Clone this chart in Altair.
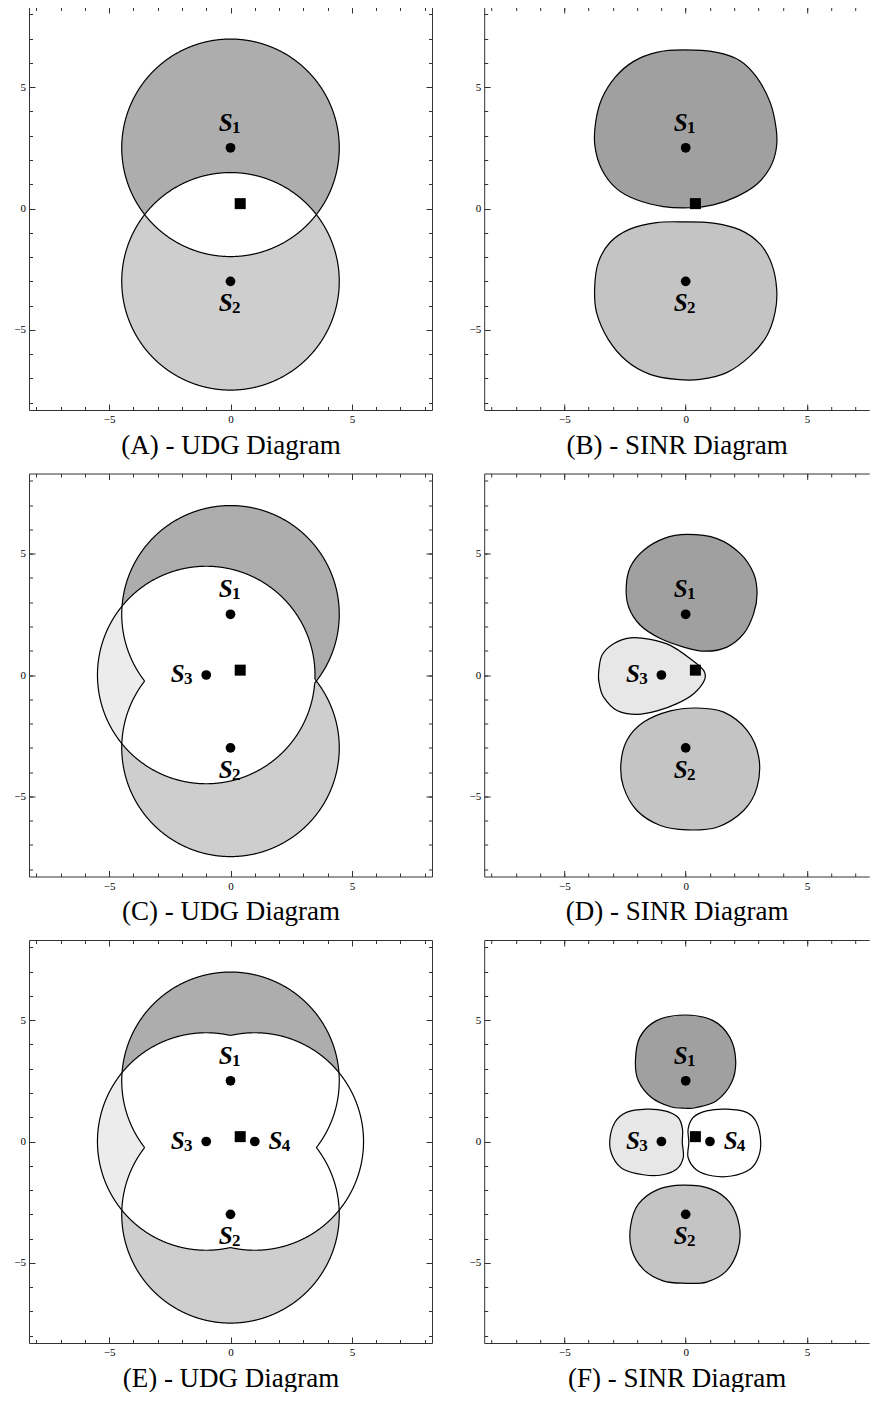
import altair as alt
import numpy as np
import pandas as pd

# ---------------- data ----------------
PX_PER_UNIT = 403 / 16.6
DOMAIN_L = [-8.3, 8.3]
DOMAIN_R = [-8.3, 7.56]
DOMAIN_Y = [-8.3, 8.3]

st_names = ["S1", "S2", "S3", "S4"]
st_sub = ["1", "2", "3", "4"]
st_x = [0.0, 0.0, -1.0, 1.0]
st_y = [2.5, -3.0, 0.0, 0.0]
label_x = [-0.2, -0.2, -2.17, 1.85]
label_y = [3.53, -3.9, 0.04, 0.04]
recv_x = [0.4]
recv_y = [0.2]

udg_radius = 4.48
udg_colors = ["#adadad", "#cecece", "#ececec", "#ffffff"]
sinr_colors = ["#a0a0a0", "#c4c4c4", "#e7e7e7", "#ffffff"]

B_S1_x = [-0.10, 1.28, 2.24, 2.93, 3.48, 3.73, 3.73, 3.48, 2.93, 2.10, 1.14, 0.18, -0.92, -2.02, -2.85, -3.46, -3.74, -3.71, -3.46, -2.91, -2.16, -1.20]
B_S1_y = [6.53, 6.43, 6.09, 5.40, 4.37, 3.27, 2.45, 1.69, 1.00, 0.49, 0.15, 0.03, 0.08, 0.36, 0.82, 1.62, 2.58, 3.55, 4.51, 5.40, 6.05, 6.43]
B_S2_x = [-0.10, 1.14, 2.24, 3.07, 3.55, 3.75, 3.68, 3.34, 2.65, 1.69, 0.59, -0.37, -1.47, -2.43, -3.19, -3.67, -3.75, -3.60, -3.12, -2.30, -1.20]
B_S2_y = [-0.55, -0.60, -0.88, -1.47, -2.30, -3.33, -4.29, -5.25, -6.08, -6.76, -7.04, -7.04, -6.83, -6.28, -5.39, -4.29, -3.26, -2.23, -1.40, -0.85, -0.58]

D_S1_x = [0.05, 1.29, 2.25, 2.8, 2.94, 2.8, 2.39, 1.7, 0.81, -0.08, -1.04, -1.87, -2.35, -2.45, -2.28, -1.73, -0.91]
D_S1_y = [5.79, 5.62, 5.0, 4.18, 3.35, 2.53, 1.7, 1.15, 0.98, 1.15, 1.5, 2.05, 2.8, 3.63, 4.45, 5.14, 5.62]
D_S2_x = [0.47, 1.57, 2.53, 3.01, 2.94, 2.39, 1.29, 0.05, -1.04, -2.01, -2.56, -2.67, -2.42, -1.73, -0.63]
D_S2_y = [-1.36, -1.53, -2.28, -3.38, -4.62, -5.58, -6.27, -6.38, -6.2, -5.58, -4.62, -3.66, -2.69, -1.94, -1.48]
D_S3_x = [-3.59, -3.45, -2.97, -2.28, -1.46, -0.63, 0.19, 0.74, 0.77, 0.33, -0.36, -1.18, -2.01, -2.83, -3.38, -3.56]
D_S3_y = [0.05, 0.81, 1.29, 1.53, 1.47, 1.22, 0.67, 0.19, -0.22, -0.77, -1.18, -1.48, -1.62, -1.46, -0.91, -0.36]

F_S1_x = [-0.03, 1.13, 1.82, 2.06, 1.89, 1.27, 0.45, -0.03, -0.65, -1.41, -1.95, -2.07, -1.89, -1.2]
F_S1_y = [5.21, 4.98, 4.29, 3.33, 2.43, 1.68, 1.4, 1.37, 1.44, 1.81, 2.5, 3.33, 4.29, 4.98]
F_S2_x = [-0.1, 1.0, 1.82, 2.21, 2.16, 1.68, 0.86, 0.0, -0.93, -1.75, -2.23, -2.27, -1.95, -1.13]
F_S2_y = [-1.8, -1.94, -2.52, -3.48, -4.44, -5.33, -5.79, -5.84, -5.74, -5.26, -4.44, -3.48, -2.58, -1.97]
F_S3_x = [-3.13, -2.92, -2.44, -1.62, -0.86, -0.31, -0.13, -0.14, -0.1, -0.38, -1.06, -1.75, -2.57, -2.99]
F_S3_y = [0.0, 0.78, 1.2, 1.33, 1.26, 0.99, 0.51, -0.04, -0.66, -1.14, -1.39, -1.37, -1.14, -0.66]
F_S4_x = [3.09, 2.92, 2.51, 1.69, 0.86, 0.31, 0.1, 0.13, 0.1, 0.45, 1.13, 1.89, 2.65, 2.99]
F_S4_y = [0.0, 0.78, 1.2, 1.33, 1.26, 0.99, 0.51, -0.04, -0.66, -1.17, -1.42, -1.42, -1.14, -0.66]

SINR = {
    "B": [(B_S1_x, B_S1_y), (B_S2_x, B_S2_y)],
    "D": [(D_S1_x, D_S1_y), (D_S2_x, D_S2_y), (D_S3_x, D_S3_y)],
    "F": [(F_S1_x, F_S1_y), (F_S2_x, F_S2_y), (F_S3_x, F_S3_y), (F_S4_x, F_S4_y)],
}

captions = {
    "A": "(A) - UDG Diagram", "B": "(B) - SINR Diagram",
    "C": "(C) - UDG Diagram", "D": "(D) - SINR Diagram",
    "E": "(E) - UDG Diagram", "F": "(F) - SINR Diagram",
}

SERIF = "Liberation Serif"
FRAME = "#333333"


def circle(cx, cy, r, n):
    t = np.linspace(0, 2 * np.pi, n, endpoint=False)
    return cx + r * np.cos(t), cy + r * np.sin(t)


def udg_fill_df(idx):
    rows = []
    g = 0
    for k in idx:
        px, py = circle(st_x[k], st_y[k], udg_radius, 720)
        for i, (a, b) in enumerate(zip(px, py)):
            rows.append({"g": g, "i": i, "x": a, "y": b, "col": udg_colors[k]})
        g += 1
    for ai in range(len(idx)):
        for bi in range(ai + 1, len(idx)):
            k1, k2 = idx[ai], idx[bi]
            p1x, p1y = circle(st_x[k1], st_y[k1], udg_radius, 1440)
            p2x, p2y = circle(st_x[k2], st_y[k2], udg_radius, 1440)
            m1 = np.hypot(p1x - st_x[k2], p1y - st_y[k2]) <= udg_radius
            m2 = np.hypot(p2x - st_x[k1], p2y - st_y[k1]) <= udg_radius
            px = np.concatenate([p1x[m1], p2x[m2]])
            py = np.concatenate([p1y[m1], p2y[m2]])
            if len(px) < 3:
                continue
            mx, my = px.mean(), py.mean()
            order = np.argsort(np.arctan2(py - my, px - mx))
            for i, j in enumerate(order):
                rows.append({"g": g, "i": i, "x": px[j], "y": py[j], "col": "#ffffff"})
            g += 1
    return pd.DataFrame(rows)


def udg_outline_df(idx):
    rows = []
    seg = 0
    n = 1440
    for k in idx:
        px, py = circle(st_x[k], st_y[k], udg_radius, n)
        m = np.zeros(n, dtype=int)
        for o in idx:
            if o == k:
                continue
            m += (np.hypot(px - st_x[o], py - st_y[o]) < udg_radius - 1e-6).astype(int)
        vis = m < 2
        if vis.all():
            xs = np.append(px, px[0]); ys = np.append(py, py[0])
            for i, (a, b) in enumerate(zip(xs, ys)):
                rows.append({"s": seg, "i": i, "x": a, "y": b})
            seg += 1
            continue
        shift = int(np.argmin(vis))
        px = np.roll(px, -shift); py = np.roll(py, -shift); vis = np.roll(vis, -shift)
        i = 0
        while i < n:
            if vis[i]:
                j = i
                while j < n and vis[j]:
                    j += 1
                lo, hi = max(i - 1, 0), min(j + 1, n)
                for q, t in enumerate(range(lo, hi)):
                    rows.append({"s": seg, "i": q, "x": px[t], "y": py[t]})
                seg += 1
                i = j
            else:
                i += 1
    return pd.DataFrame(rows)


def sinr_df(key):
    rows = []
    for k, (xs, ys) in enumerate(SINR[key]):
        for i, (a, b) in enumerate(zip(xs, ys)):
            rows.append({"g": k, "i": i, "x": a, "y": b, "col": sinr_colors[k]})
    return pd.DataFrame(rows)


def ax(orient, major, dom, labels=False, title=None):
    size = 6 if major else 3.5
    vals = [-5, 0, 5] if major else [v for v in range(-8, 9) if dom[0] <= v <= dom[1]]
    kw = dict(orient=orient, values=vals,
              tickSize=size, offset=-size, domain=False, grid=False, labels=labels,
              tickColor=FRAME, tickWidth=1)
    if labels:
        kw.update(labelFont=SERIF, labelFontSize=11, labelColor="black", labelPadding=3.5)
    if title:
        kw.update(title=title, titleFont=SERIF, titleFontSize=27, titleFontWeight="normal",
                  titleColor="black", titlePadding=7.5)
    else:
        kw["title"] = None
    return alt.Axis(**kw)


def frame_ax(orient):
    # plain frame line along one side of the plot
    return alt.Axis(orient=orient, domain=True, domainColor=FRAME, domainWidth=1,
                    ticks=False, labels=False, grid=False, title=None, offset=0)


def sc(dom):
    return alt.Scale(domain=dom, nice=False, zero=False)


def panel(key, kind, idx, right=False):
    cap = captions[key]
    dx_ = DOMAIN_R if right else DOMAIN_L
    dy_ = DOMAIN_Y
    width = round((dx_[1] - dx_[0]) * PX_PER_UNIT)
    height = round((dy_[1] - dy_[0]) * PX_PER_UNIT)
    if kind == "udg":
        fdf = udg_fill_df(idx)
        odf = udg_outline_df(idx)
        interp = "linear"
        det = "s:N"
    else:
        fdf = sinr_df(key)
        odf = fdf
        interp = "cardinal-closed"
        det = "g:N"
    fills = alt.Chart(fdf).mark_line(strokeOpacity=0, interpolate=interp).encode(
        x=alt.X("x:Q", scale=sc(dx_), axis=ax("bottom", True, dx_, True, cap)),
        y=alt.Y("y:Q", scale=sc(dy_), axis=ax("left", True, dy_, True)),
        order="i:Q", detail="g:N", fill=alt.Fill("col:N", scale=None))
    lines = alt.Chart(odf).mark_line(stroke="black", strokeWidth=1.2, interpolate=interp).encode(
        x=alt.X("x:Q", scale=sc(dx_), axis=ax("bottom", False, dx_)),
        y=alt.Y("y:Q", scale=sc(dy_), axis=ax("left", False, dy_)),
        order="i:Q", detail=det)

    sdf_pts = pd.DataFrame({"x": [st_x[k] for k in idx], "y": [st_y[k] for k in idx],
                            "lx": [label_x[k] for k in idx], "ly": [label_y[k] for k in idx],
                            "sub": [st_sub[k] for k in idx]})
    rdf = pd.DataFrame({"x": recv_x, "y": recv_y})
    dots = alt.Chart(sdf_pts).mark_circle(size=95, color="black", opacity=1).encode(
        x=alt.X("x:Q", scale=sc(dx_), axis=ax("top", True, dx_)),
        y=alt.Y("y:Q", scale=sc(dy_), axis=None if right else ax("right", True, dy_)))
    recv = alt.Chart(rdf).mark_square(size=121, color="black", opacity=1).encode(
        x=alt.X("x:Q", scale=sc(dx_), axis=ax("top", False, dx_)),
        y=alt.Y("y:Q", scale=sc(dy_), axis=None if right else ax("right", False, dy_)))
    s_txt = alt.Chart(sdf_pts).mark_text(text="S", font=SERIF, fontSize=25, fontStyle="italic",
                                         fontWeight="bold", color="black", baseline="middle",
                                         align="center").encode(
        x=alt.X("lx:Q", scale=sc(dx_), axis=frame_ax("bottom")),
        y=alt.Y("ly:Q", scale=sc(dy_), axis=frame_ax("left")))
    n_txt = alt.Chart(sdf_pts).mark_text(font=SERIF, fontSize=17, fontWeight="bold",
                                         color="black", baseline="middle", align="center",
                                         dx=10.5, dy=5).encode(
        x=alt.X("lx:Q", scale=sc(dx_), axis=frame_ax("top")),
        y=alt.Y("ly:Q", scale=sc(dy_), axis=None if right else frame_ax("right")),
        text="sub:N")
    return alt.layer(fills, lines, dots, recv, s_txt, n_txt).resolve_axis(
        x="independent", y="independent").properties(width=width, height=height)


rows = [
    alt.hconcat(panel("A", "udg", [0, 1]), panel("B", "sinr", [0, 1], True), spacing=35.2),
    alt.hconcat(panel("C", "udg", [0, 1, 2]), panel("D", "sinr", [0, 1, 2], True), spacing=35.2),
    alt.hconcat(panel("E", "udg", [0, 1, 2, 3]), panel("F", "sinr", [0, 1, 2, 3], True), spacing=35.2),
]
chart = alt.vconcat(*rows, spacing=13.5).configure(
    padding={"left": 5, "top": -2, "right": 0, "bottom": 0}
).configure_view(stroke="transparent")

chart.save("out.html", embed_options={"renderer": "svg", "actions": False})
